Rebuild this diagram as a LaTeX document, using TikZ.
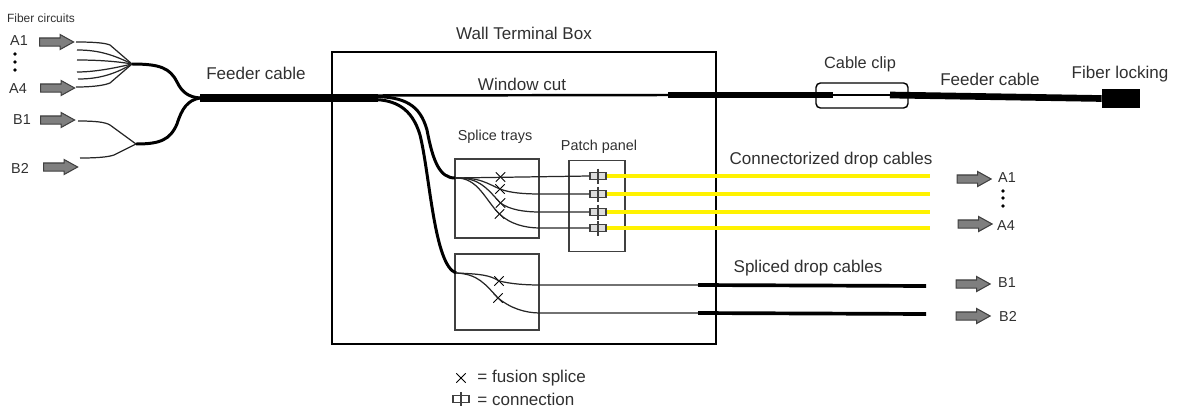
\documentclass[tikz,border=0pt]{standalone}
\usepackage{fontspec}
\setmainfont{Liberation Sans}
\usetikzlibrary{shapes.arrows,shapes.misc}

\definecolor{txtgray}{HTML}{303030}
\definecolor{flowgray}{HTML}{7F7F7F}
\definecolor{boxgray}{HTML}{404040}
\definecolor{plugfill}{HTML}{DDDDDD}
\definecolor{dropyellow}{HTML}{FFF200}

\tikzset{
	label/.style={text=txtgray, inner sep=0pt, font=\fontsize{9.7}{11}\selectfont},
	tag/.style={text=txtgray, inner sep=0pt, font=\fontsize{8.2}{10}\selectfont},
	small/.style={text=txtgray, inner sep=0pt, font=\fontsize{8.2}{10}\selectfont},
	flow/.style={single arrow, draw=boxgray, fill=flowgray, line width=0.6pt, inner xsep=0pt, inner ysep=0.07cm,
		minimum height=0.68cm, single arrow head extend=0.07cm, single arrow tip angle=58},
	tray/.style={draw=boxgray, line width=0.7pt},
	fiber/.style={draw=black!85, line width=0.7pt},
	jacket/.style={draw=black, line width=1.7pt},
	splice/.style={cross out, draw=black, line width=0.5pt, inner sep=0pt, minimum size=0.17cm},
	plug/.style={draw=boxgray, fill=plugfill, line width=0.6pt, inner sep=0pt, minimum width=0.32cm, minimum height=0.14cm},
	bullet/.style={circle, fill=black, inner sep=0pt, minimum size=2.2pt}
}

\begin{document}
\begin{tikzpicture}[x=0.02cm, y=-0.02cm]
	\useasboundingbox (0,0) rectangle (1179,409);

	% Boxes
	\node[draw=black, line width=0.9pt, inner sep=0pt, minimum width=7.68cm, minimum height=5.84cm] (wall) at (524,198) {};
	\node[tray, inner sep=0pt, minimum width=1.68cm, minimum height=1.58cm] (tray1) at (497,198.5) {};
	\node[tray, inner sep=0pt, minimum width=1.68cm, minimum height=1.52cm] (tray2) at (497,292) {};
	\node[tray, inner sep=0pt, minimum width=1.12cm, minimum height=1.82cm] (panel) at (597,206) {};

	% Left side
	\node[small, font=\fontsize{6.8}{9}\selectfont] (fiberc) at (41,18) {Fiber circuits};
	\foreach \name/\txt/\tx/\ty/\ax/\ay in {a1/A1/19/41/53/42, a4/A4/18/89/54/88, b1/B1/22/120/54/120, b2/B2/20/168/57/167} {
		\node[tag] (in\name) at (\tx,\ty) {\txt};
		\node[flow] (arr\name) at (\ax,\ay) {};
	}
	\foreach \y in {54,62,70} {
		\node[bullet] (dotl\y) at (15,\y) {};
	}

	% Fan out
	\coordinate (fana) at (132,64);
	\coordinate (fanb) at (136,144);
	\coordinate (feed) at (200,98);
	\draw[fiber] (76,42) .. controls (95,42) and (105,43) .. (110,45) -- (fana);
	\draw[fiber] (77,50) .. controls (95,50) and (110,53) .. (fana);
	\draw[fiber] (77,60) .. controls (95,60) and (115,61) .. (fana);
	\draw[fiber] (77,72) .. controls (95,72) and (115,68) .. (fana);
	\draw[fiber] (78,79) .. controls (95,79) and (112,76) .. (fana);
	\draw[fiber] (76,87) .. controls (95,87) and (105,85) .. (110,83) -- (fana);
	\draw[fiber] (78,121) .. controls (95,121) and (105,122) .. (110,125) -- (fanb);
	\draw[fiber] (80,158) .. controls (98,158) and (108,157) .. (114,155) -- (fanb);
	\draw[jacket] (fana) .. controls (160,64) and (170,68) .. (177,82) .. controls (182,92) and (188,97) .. (feed);
	\draw[jacket] (fanb) .. controls (160,144) and (170,140) .. (177,124) .. controls (182,108) and (188,100) .. (feed);
	\node[label] (feederl) at (256,73) {Feeder cable};

	% Feeder through the box
	\coordinate (feedend) at (378,98);
	\coordinate (cutl) at (370,95.5);
	\coordinate (thick1) at (668,95);
	\coordinate (clipa) at (833,95);
	\coordinate (clipb) at (890,95);
	\node[fill=black, inner sep=0pt, minimum width=0.76cm, minimum height=0.4cm] (lock) at (1121,98.5) {};
	\draw[draw=black, line width=1.4pt] (cutl) -- (thick1);
	\draw[draw=black, line width=3.6pt] (thick1) -- (clipa);
	\draw[draw=black, line width=1pt] (clipa) -- (clipb);
	\draw[draw=black, line width=3.8pt] (clipb) -- (lock.west);
	\draw[draw=black, line width=4.6pt] (feed) -- (feedend);
	\node[draw=black, line width=0.8pt, rounded corners=2.5pt, inner sep=0pt, minimum width=1.84cm, minimum height=0.5cm] (clip) at (862,95.5) {};
	\node[label] (wallt) at (524,33) {Wall Terminal Box};
	\node[label] (windowc) at (522,84) {Window cut};
	\node[label, font=\fontsize{9.3}{11}\selectfont] (clipl) at (860,64) {Cable clip};
	\node[label] (feederr) at (990,79) {Feeder cable};
	\node[label] (lockl) at (1120,74) {Fiber locking};

	% Drop to trays
	\coordinate (in1) at (455,178);
	\coordinate (in2) at (456,273);
	\draw[jacket] (372,96.5) .. controls (405,96.5) and (420,105) .. (427,130) .. controls (433,162) and (440,178) .. (in1);
	\draw[jacket] (372,99.5) .. controls (395,99.5) and (412,108) .. (420,135) .. controls (430,175) and (434,265) .. (in2);
	\node[small] (splicel) at (495,137) {Splice trays};
	\node[small] (panell) at (599,147) {Patch panel};

	% Connectorized branch
	\foreach \i/\y in {1/176,2/194,3/212,4/228} {
		\node[plug] (plug\i) at (598,\y) {};
		\draw[line width=0.6pt, draw=boxgray] (598,\y-7.5) -- (598,\y+7.5);
		\draw[draw=dropyellow, line width=2.1pt] (plug\i.east) -- (930,\y);
	}
	\foreach \i/\x/\y in {1/500.5/177, 2/500/189, 3/500.5/203, 4/499.5/214} {
		\node[splice] (spl\i) at (\x,\y) {};
	}
	\draw[fiber] (in1) -- (plug1.west);
	\draw[fiber] (in1) .. controls (480,177) and (488,184) .. (spl2.center) .. controls (510,193) and (525,194) .. (540,194) -- (plug2.west);
	\draw[fiber] (in1) .. controls (480,177) and (488,190) .. (spl3.center) .. controls (510,210) and (525,212) .. (540,212) -- (plug3.west);
	\draw[fiber] (in1) .. controls (478,177) and (485,200) .. (spl4.center) .. controls (510,224) and (525,228) .. (540,228) -- (plug4.west);

	% Spliced branch
	\node[splice] (spl5) at (499,281) {};
	\node[splice] (spl6) at (498,298) {};
	\coordinate (b1end) at (698,285);
	\coordinate (b2end) at (698,313);
	\draw[fiber] (in2) .. controls (480,274) and (490,275) .. (spl5.center) .. controls (512,284) and (525,285) .. (540,285) -- (b1end);
	\draw[fiber] (in2) .. controls (478,274) and (485,284) .. (spl6.center) .. controls (510,308) and (525,313) .. (540,313) -- (b2end);
	\draw[draw=black, line width=2.1pt] (b1end) -- (926,286);
	\draw[draw=black, line width=2.1pt] (b2end) -- (926,314);
	\node[label] (connl) at (831,160) {Connectorized drop cables};
	\node[label] (spll) at (808,268) {Spliced drop cables};

	% Right side
	\foreach \name/\txt/\tx/\ty/\ax/\ay in {a1/A1/1007/178/970.5/179, a4/A4/1006/226/971.5/224, b1/B1/1007/283/969.5/284, b2/B2/1008/316/969.5/316} {
		\node[tag] (out\name) at (\tx,\ty) {\txt};
		\node[flow] (outarr\name) at (\ax,\ay) {};
	}
	\foreach \y in {191,198,206} {
		\node[bullet] (dotr\y) at (1003,\y) {};
	}

	% Legend
	\node[splice] (legs) at (461,378) {};
	\node[label, anchor=west] (legst) at (477,378) {= fusion splice};
	\node[plug, fill=none] (legc) at (461,399) {};
	\draw[line width=0.6pt, draw=boxgray] (461,392) -- (461,406);
	\node[label, anchor=west] (legct) at (477,399) {= connection};
\end{tikzpicture}
\end{document}
